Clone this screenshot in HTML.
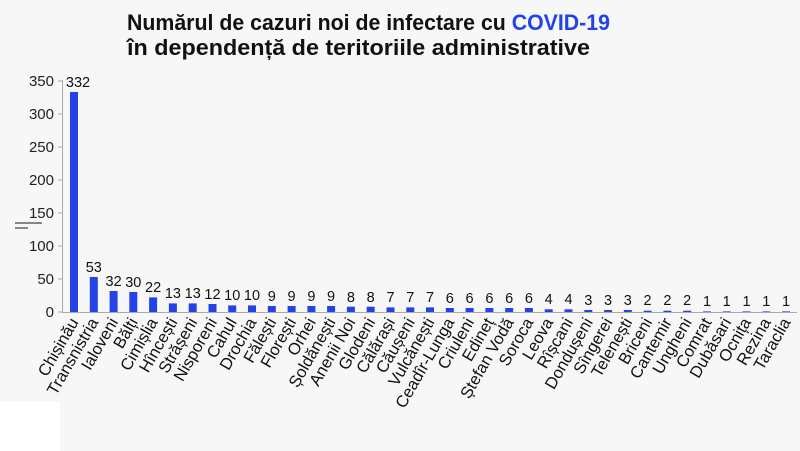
<!DOCTYPE html>
<html><head><meta charset="utf-8"><style>
html,body{margin:0;padding:0;background:#f7f7f7;}
svg{display:block;font-family:"Liberation Sans",Arial,sans-serif;}
</style></head><body>
<svg width="800" height="451" viewBox="0 0 800 451" xmlns="http://www.w3.org/2000/svg">
<rect width="800" height="451" fill="#f7f7f7"/>
<rect x="0" y="402" width="60" height="49" fill="#ffffff"/>
<text x="127" y="30" font-size="22" font-weight="bold" fill="#111" textLength="483" lengthAdjust="spacingAndGlyphs">Numărul de cazuri noi de infectare cu <tspan fill="#2343e8">COVID-19</tspan></text>
<text x="127" y="55" font-size="22" font-weight="bold" fill="#111" textLength="463" lengthAdjust="spacingAndGlyphs">în dependență de teritoriile administrative</text>
<line x1="15" y1="223" x2="42" y2="223" stroke="#444" stroke-width="1.2"/>
<line x1="15" y1="228" x2="28" y2="228" stroke="#444" stroke-width="1.2"/>
<g stroke="#aaa" stroke-width="1">
<line x1="62.5" y1="80" x2="62.5" y2="313"/>
<line x1="62" y1="312.5" x2="797" y2="312.5"/>
<line x1="58" y1="81" x2="62" y2="81"/><line x1="58" y1="114" x2="62" y2="114"/><line x1="58" y1="147" x2="62" y2="147"/><line x1="58" y1="180" x2="62" y2="180"/><line x1="58" y1="213" x2="62" y2="213"/><line x1="58" y1="246" x2="62" y2="246"/><line x1="58" y1="279" x2="62" y2="279"/><line x1="58" y1="312" x2="62" y2="312"/>
</g>
<g font-size="15" fill="#222" text-anchor="end">
<text x="54" y="86">350</text><text x="54" y="119">300</text><text x="54" y="152">250</text><text x="54" y="185">200</text><text x="54" y="218">150</text><text x="54" y="251">100</text><text x="54" y="284">50</text><text x="54" y="317">0</text>
</g>
<g fill="#2343e8">
<rect x="70" y="92" width="8" height="220"/>
<rect x="89.8" y="277" width="8" height="35"/>
<rect x="109.6" y="291" width="8" height="21"/>
<rect x="129.3" y="292" width="8" height="20"/>
<rect x="149.1" y="297.4" width="8" height="14.6"/>
<rect x="168.9" y="303.4" width="8" height="8.6"/>
<rect x="188.7" y="303.4" width="8" height="8.6"/>
<rect x="208.5" y="304" width="8" height="8"/>
<rect x="228.2" y="305.4" width="8" height="6.6"/>
<rect x="248" y="305.4" width="8" height="6.6"/>
<rect x="267.8" y="306" width="8" height="6"/>
<rect x="287.6" y="306" width="8" height="6"/>
<rect x="307.4" y="306" width="8" height="6"/>
<rect x="327.1" y="306" width="8" height="6"/>
<rect x="346.9" y="306.7" width="8" height="5.3"/>
<rect x="366.7" y="306.7" width="8" height="5.3"/>
<rect x="386.5" y="307.4" width="8" height="4.6"/>
<rect x="406.3" y="307.4" width="8" height="4.6"/>
<rect x="426" y="307.4" width="8" height="4.6"/>
<rect x="445.8" y="308" width="8" height="4"/>
<rect x="465.6" y="308" width="8" height="4"/>
<rect x="485.4" y="308" width="8" height="4"/>
<rect x="505.2" y="308" width="8" height="4"/>
<rect x="524.9" y="308" width="8" height="4"/>
<rect x="544.7" y="309.3" width="8" height="2.7"/>
<rect x="564.5" y="309.3" width="8" height="2.7"/>
<rect x="584.3" y="310" width="8" height="2"/>
<rect x="604.1" y="310" width="8" height="2"/>
<rect x="623.8" y="310" width="8" height="2"/>
<rect x="643.6" y="310.7" width="8" height="1.3"/>
<rect x="663.4" y="310.7" width="8" height="1.3"/>
<rect x="683.2" y="310.7" width="8" height="1.3"/>
<rect x="703" y="311" width="8" height="1" opacity="0.6"/>
<rect x="722.7" y="311" width="8" height="1" opacity="0.6"/>
<rect x="742.5" y="311" width="8" height="1" opacity="0.6"/>
<rect x="762.3" y="311" width="8" height="1" opacity="0.6"/>
<rect x="782.1" y="311" width="8" height="1" opacity="0.6"/>
</g>
<g font-size="14.5" fill="#111" text-anchor="middle">
<text x="78" y="87">332</text>
<text x="93.8" y="272">53</text>
<text x="113.6" y="286">32</text>
<text x="133.3" y="287">30</text>
<text x="153.1" y="292">22</text>
<text x="172.9" y="298">13</text>
<text x="192.7" y="298">13</text>
<text x="212.5" y="299">12</text>
<text x="232.2" y="300">10</text>
<text x="252" y="300">10</text>
<text x="271.8" y="301">9</text>
<text x="291.6" y="301">9</text>
<text x="311.4" y="301">9</text>
<text x="331.1" y="301">9</text>
<text x="350.9" y="302">8</text>
<text x="370.7" y="302">8</text>
<text x="390.5" y="302">7</text>
<text x="410.3" y="302">7</text>
<text x="430" y="302">7</text>
<text x="449.8" y="303">6</text>
<text x="469.6" y="303">6</text>
<text x="489.4" y="303">6</text>
<text x="509.2" y="303">6</text>
<text x="528.9" y="303">6</text>
<text x="548.7" y="304">4</text>
<text x="568.5" y="304">4</text>
<text x="588.3" y="305">3</text>
<text x="608.1" y="305">3</text>
<text x="627.8" y="305">3</text>
<text x="647.6" y="305">2</text>
<text x="667.4" y="305">2</text>
<text x="687.2" y="305">2</text>
<text x="707" y="306">1</text>
<text x="726.7" y="306">1</text>
<text x="746.5" y="306">1</text>
<text x="766.3" y="306">1</text>
<text x="786.1" y="306">1</text>
</g>
<g font-size="16.5" fill="#111" text-anchor="end">
<text transform="translate(79,322) rotate(-60)">Chișinău</text>
<text transform="translate(98.8,322) rotate(-60)">Transnistria</text>
<text transform="translate(118.6,322) rotate(-60)">Ialoveni</text>
<text transform="translate(138.3,322) rotate(-60)">Bălți</text>
<text transform="translate(158.1,322) rotate(-60)">Cimișlia</text>
<text transform="translate(177.9,322) rotate(-60)">Hîncești</text>
<text transform="translate(197.7,322) rotate(-60)">Strășeni</text>
<text transform="translate(217.5,322) rotate(-60)">Nisporeni</text>
<text transform="translate(237.2,322) rotate(-60)">Cahul</text>
<text transform="translate(257,322) rotate(-60)">Drochia</text>
<text transform="translate(276.8,322) rotate(-60)">Fălești</text>
<text transform="translate(296.6,322) rotate(-60)">Florești</text>
<text transform="translate(316.4,322) rotate(-60)">Orhei</text>
<text transform="translate(336.1,322) rotate(-60)">Șoldănești</text>
<text transform="translate(355.9,322) rotate(-60)">Anenii Noi</text>
<text transform="translate(375.7,322) rotate(-60)">Glodeni</text>
<text transform="translate(395.5,322) rotate(-60)">Călărași</text>
<text transform="translate(415.3,322) rotate(-60)">Căușeni</text>
<text transform="translate(435,322) rotate(-60)">Vulcănești</text>
<text transform="translate(454.8,322) rotate(-60)">Ceadîr-Lunga</text>
<text transform="translate(474.6,322) rotate(-60)">Criuleni</text>
<text transform="translate(494.4,322) rotate(-60)">Edineț</text>
<text transform="translate(514.2,322) rotate(-60)">Ștefan Vodă</text>
<text transform="translate(533.9,322) rotate(-60)">Soroca</text>
<text transform="translate(553.7,322) rotate(-60)">Leova</text>
<text transform="translate(573.5,322) rotate(-60)">Rîșcani</text>
<text transform="translate(593.3,322) rotate(-60)">Dondușeni</text>
<text transform="translate(613.1,322) rotate(-60)">Sîngerei</text>
<text transform="translate(632.8,322) rotate(-60)">Telenești</text>
<text transform="translate(652.6,322) rotate(-60)">Briceni</text>
<text transform="translate(672.4,322) rotate(-60)">Cantemir</text>
<text transform="translate(692.2,322) rotate(-60)">Ungheni</text>
<text transform="translate(712,322) rotate(-60)">Comrat</text>
<text transform="translate(731.7,322) rotate(-60)">Dubăsari</text>
<text transform="translate(751.5,322) rotate(-60)">Ocnița</text>
<text transform="translate(771.3,322) rotate(-60)">Rezina</text>
<text transform="translate(791.1,322) rotate(-60)">Taraclia</text>
</g>
</svg>
</body></html>
